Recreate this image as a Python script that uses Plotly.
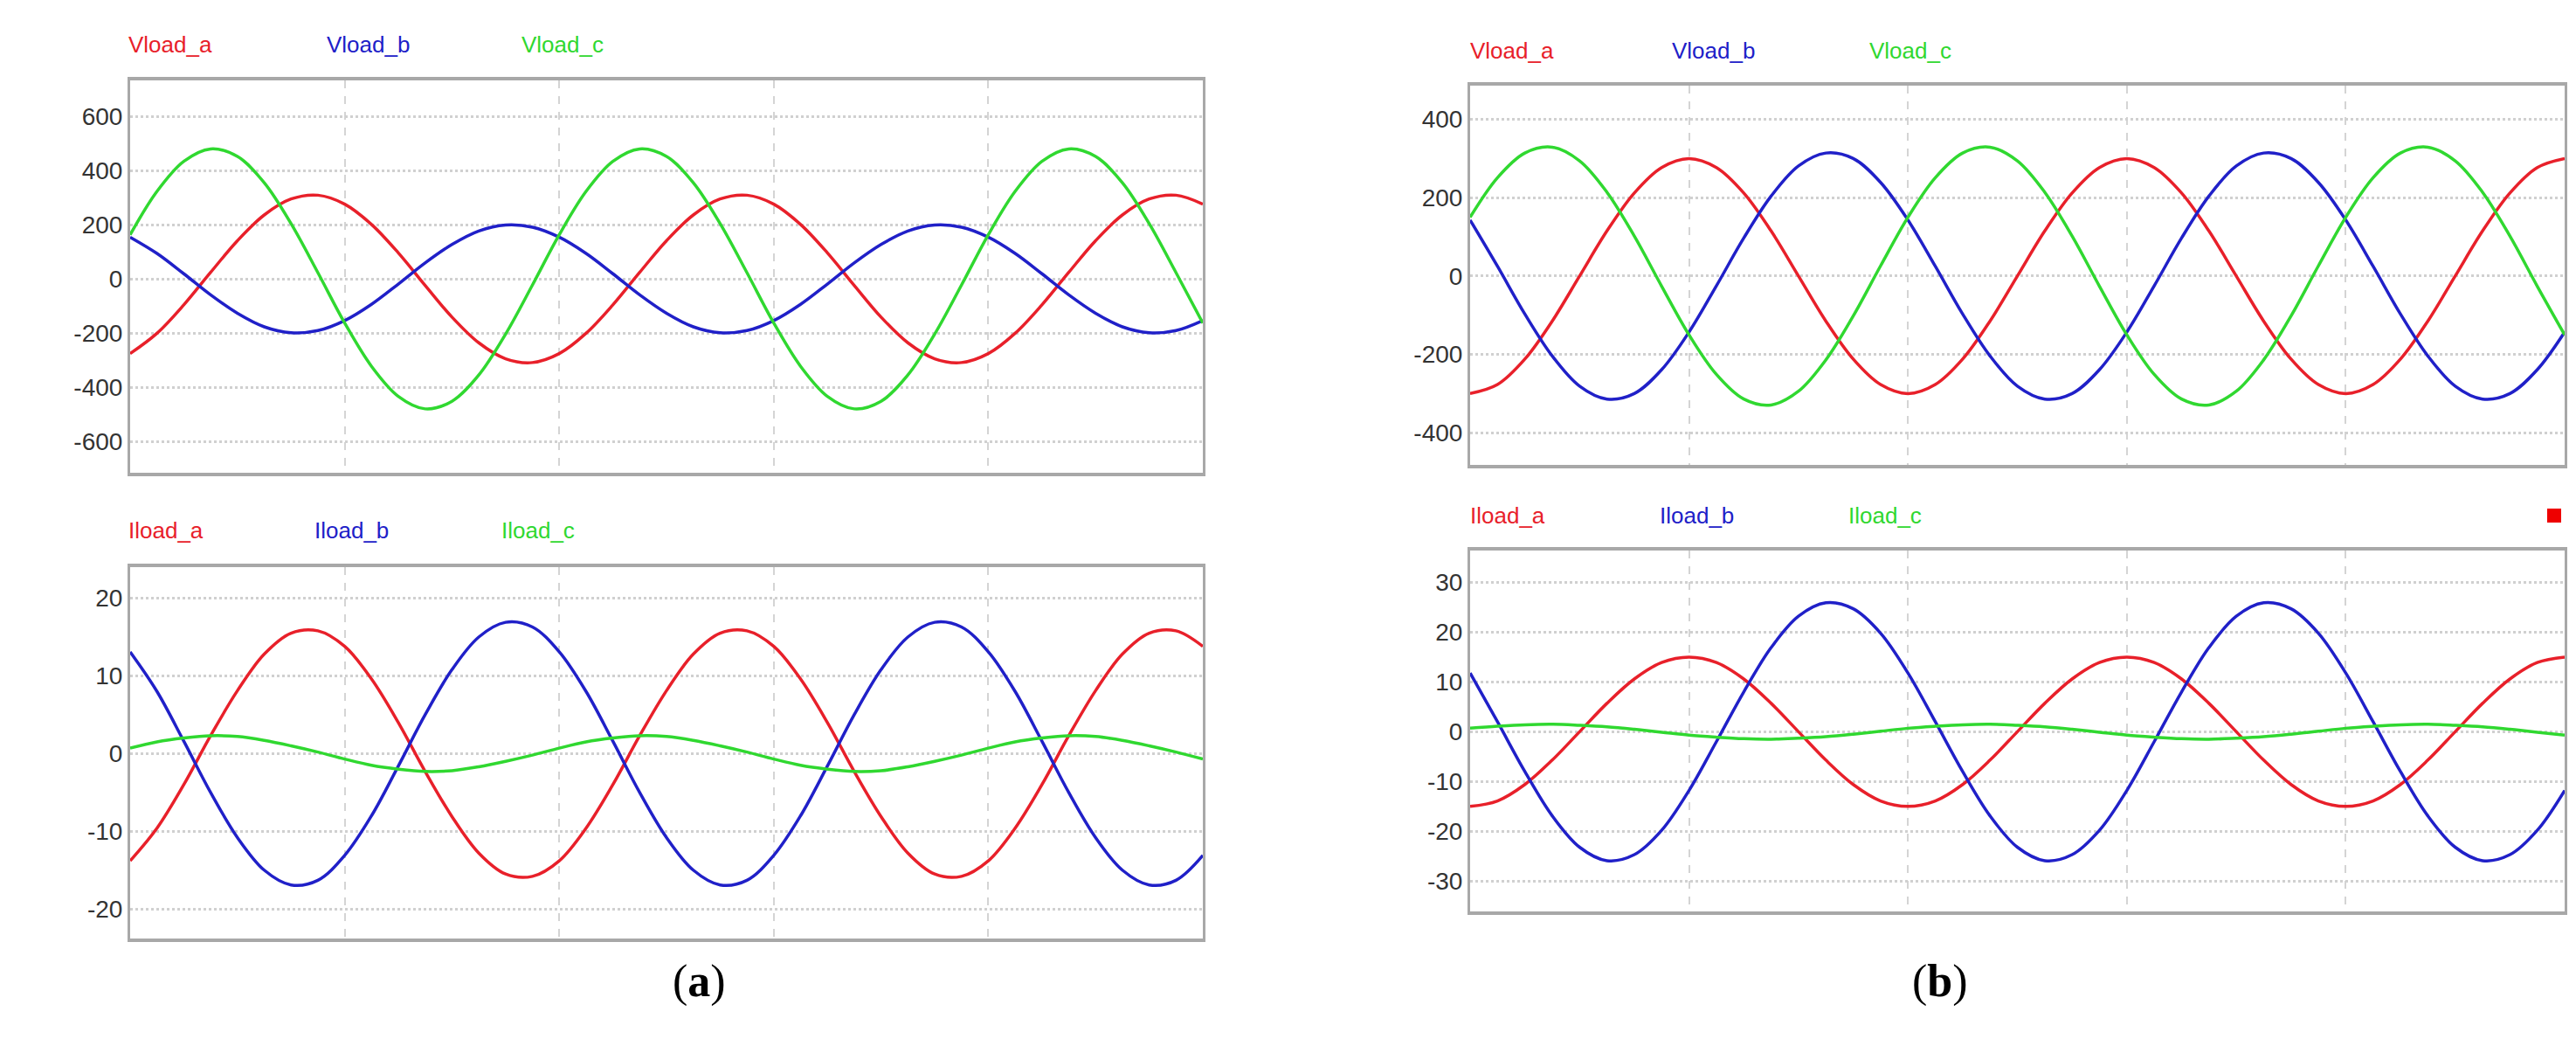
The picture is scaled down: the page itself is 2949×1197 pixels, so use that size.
import plotly.graph_objects as go

x_div = [i * 0.125 for i in range(41)]

va_a = [-276, -201, -96, 24, 141, 236, 295, 309, 276, 201, 96, -24, -141, -236, -295, -309,
        -276, -201, -96, 24, 141, 236, 295, 309, 276, 201, 96, -24, -141, -236, -295, -309,
        -276, -201, -96, 24, 141, 236, 295, 309, 276]
va_b = [154, 94, 19, -59, -127, -177, -199, -191, -154, -94, -19, 59, 127, 177, 199, 191,
        154, 94, 19, -59, -127, -177, -199, -191, -154, -94, -19, 59, 127, 177, 199, 191,
        154, 94, 19, -59, -127, -177, -199, -191, -154]
va_c = [163, 323, 434, 480, 452, 355, 204, 23, -163, -323, -434, -480, -452, -355, -204, -23,
        163, 323, 434, 480, 452, 355, 204, 23, -163, -323, -434, -480, -452, -355, -204, -23,
        163, 323, 434, 480, 452, 355, 204, 23, -163]

ia_a = [-13.8, -9.6, -4.0, 2.3, 8.1, 12.8, 15.5, 15.8, 13.8, 9.6, 4.0, -2.3, -8.1, -12.8, -15.5, -15.8,
        -13.8, -9.6, -4.0, 2.3, 8.1, 12.8, 15.5, 15.8, 13.8, 9.6, 4.0, -2.3, -8.1, -12.8, -15.5, -15.8,
        -13.8, -9.6, -4.0, 2.3, 8.1, 12.8, 15.5, 15.8, 13.8]
ia_b = [13.1, 8.0, 1.6, -5.0, -10.8, -15.0, -16.9, -16.3, -13.1, -8.0, -1.6, 5.0, 10.8, 15.0, 16.9, 16.3,
        13.1, 8.0, 1.6, -5.0, -10.8, -15.0, -16.9, -16.3, -13.1, -8.0, -1.6, 5.0, 10.8, 15.0, 16.9, 16.3,
        13.1, 8.0, 1.6, -5.0, -10.8, -15.0, -16.9, -16.3, -13.1]
ia_c = [0.7, 1.5, 2.0, 2.3, 2.2, 1.7, 1.0, 0.2, -0.7, -1.5, -2.0, -2.3, -2.2, -1.7, -1.0, -0.2,
        0.7, 1.5, 2.0, 2.3, 2.2, 1.7, 1.0, 0.2, -0.7, -1.5, -2.0, -2.3, -2.2, -1.7, -1.0, -0.2,
        0.7, 1.5, 2.0, 2.3, 2.2, 1.7, 1.0, 0.2, -0.7]

vb_a = [-300, -277, -212, -115, 0, 115, 212, 277, 300, 277, 212, 115, 0, -115, -212, -277,
        -300, -277, -212, -115, 0, 115, 212, 277, 300, 277, 212, 115, 0, -115, -212, -277,
        -300, -277, -212, -115, 0, 115, 212, 277, 300]
vb_b = [143, 25, -97, -204, -281, -314, -300, -239, -143, -25, 97, 204, 281, 314, 300, 239,
        143, 25, -97, -204, -281, -314, -300, -239, -143, -25, 97, 204, 281, 314, 300, 239,
        143, 25, -97, -204, -281, -314, -300, -239, -143]
vb_c = [150, 251, 314, 329, 294, 214, 102, -26, -150, -251, -314, -329, -294, -214, -102, 26,
        150, 251, 314, 329, 294, 214, 102, -26, -150, -251, -314, -329, -294, -214, -102, 26,
        150, 251, 314, 329, 294, 214, 102, -26, -150]

ib_a = [-15, -13.9, -10.6, -5.7, 0, 5.7, 10.6, 13.9, 15, 13.9, 10.6, 5.7, 0, -5.7, -10.6, -13.9,
        -15, -13.9, -10.6, -5.7, 0, 5.7, 10.6, 13.9, 15, 13.9, 10.6, 5.7, 0, -5.7, -10.6, -13.9,
        -15, -13.9, -10.6, -5.7, 0, 5.7, 10.6, 13.9, 15]
ib_b = [11.8, 2.0, -8.0, -16.9, -23.2, -25.9, -24.7, -19.8, -11.8, -2.0, 8.0, 16.9, 23.2, 25.9, 24.7, 19.8,
        11.8, 2.0, -8.0, -16.9, -23.2, -25.9, -24.7, -19.8, -11.8, -2.0, 8.0, 16.9, 23.2, 25.9, 24.7, 19.8,
        11.8, 2.0, -8.0, -16.9, -23.2, -25.9, -24.7, -19.8, -11.8]
ib_c = [0.7, 1.1, 1.4, 1.5, 1.3, 1.0, 0.5, -0.1, -0.7, -1.1, -1.4, -1.5, -1.3, -1.0, -0.5, 0.1,
        0.7, 1.1, 1.4, 1.5, 1.3, 1.0, 0.5, -0.1, -0.7, -1.1, -1.4, -1.5, -1.3, -1.0, -0.5, 0.1,
        0.7, 1.1, 1.4, 1.5, 1.3, 1.0, 0.5, -0.1, -0.7]

ticks_va = [-600, -400, -200, 0, 200, 400, 600]
ticks_ia = [-20, -10, 0, 10, 20]
ticks_vb = [-400, -200, 0, 200, 400]
ticks_ib = [-30, -20, -10, 0, 10, 20, 30]

names_v = ["Vload_a", "Vload_b", "Vload_c"]
names_i = ["Iload_a", "Iload_b", "Iload_c"]
colors = ["#e8202a", "#2020c8", "#30d830"]

W, H = 2949, 1197
panels = [
    ([va_a, va_b, va_c], ticks_va, [-716, 733], (141, 1369), (84, 533), names_v, [137, 364, 587], 43),
    ([ia_a, ia_b, ia_c], ticks_ia, [-23.8, 24.0], (141, 1369), (641, 1066), names_i, [137, 350, 564], 599),
    ([vb_a, vb_b, vb_c], ticks_vb, [-482, 486], (1675, 2928), (90, 524), names_v, [1673, 1904, 2130], 50),
    ([ib_a, ib_b, ib_c], ticks_ib, [-36.1, 36.4], (1675, 2928), (622, 1035), names_i, [1673, 1890, 2106], 582),
]

fig = go.Figure()
ann = []
for k, (series, ticks, yr, xd, yd, names, lx, ly) in enumerate(panels):
    n = "" if k == 0 else str(k + 1)
    for s, c, nm in zip(series, colors, names):
        fig.add_trace(go.Scatter(x=x_div, y=s, mode="lines", name=nm, showlegend=False,
                                 line=dict(color=c, width=3.5, shape="spline"),
                                 xaxis="x" + n, yaxis="y" + n))
    fig.layout["xaxis" + n] = dict(domain=[xd[0] / W, xd[1] / W], range=[0, 5], anchor="y" + n,
                                   tickvals=[1, 2, 3, 4], showticklabels=False, ticks="",
                                   showgrid=True, gridcolor="#d4d4d4", griddash="dash", gridwidth=1.5,
                                   zeroline=False, showline=True, mirror=True, linecolor="#a8a8a8", linewidth=4)
    fig.layout["yaxis" + n] = dict(domain=[1 - yd[1] / H, 1 - yd[0] / H], range=yr, anchor="x" + n,
                                   tickvals=ticks, ticktext=[str(t) for t in ticks], ticks="",
                                   showgrid=True, gridcolor="#d0d0d0",
                                   griddash="dot", gridwidth=2.5, zeroline=False, showline=True, mirror=True,
                                   linecolor="#a8a8a8", linewidth=3,
                                   tickfont=dict(family="Liberation Sans", size=28, color="#333333"))
    for t, c, x0 in zip(names, colors, lx):
        ann.append(dict(text=t, x=x0 / W, y=1 - ly / H, xref="paper", yref="paper",
                        xanchor="left", yanchor="middle", showarrow=False,
                        font=dict(family="Liberation Sans", size=26, color=c)))

ann.append(dict(text="(<b>a</b>)", x=760 / W, y=1 - 1146 / H, xref="paper", yref="paper",
                showarrow=False, font=dict(family="Liberation Serif", size=52, color="black")))
ann.append(dict(text="(<b>b</b>)", x=2247 / W, y=1 - 1146 / H, xref="paper", yref="paper",
                showarrow=False, font=dict(family="Liberation Serif", size=52, color="black")))

fig.update_layout(width=W, height=H, margin=dict(l=0, r=0, t=0, b=0),
                  paper_bgcolor="white", plot_bgcolor="white", annotations=ann,
                  shapes=[dict(type="rect", xref="paper", yref="paper",
                               x0=2908 / W, x1=2924 / W, y0=1 - 590 / H, y1=1 - 574 / H,
                               fillcolor="#ee0000", line=dict(width=0))])
fig.write_html("out.html")
